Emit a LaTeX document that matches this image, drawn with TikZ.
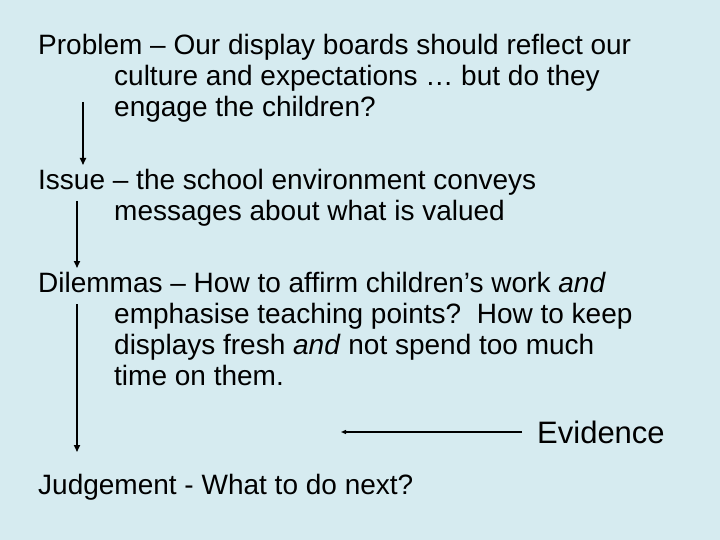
\documentclass[tikz,border=0pt]{standalone}
\usepackage{fontspec}
\setmainfont{Liberation Sans}
\usetikzlibrary{arrows.meta}
\definecolor{bg}{RGB}{214,235,240}
\begin{document}
\begin{tikzpicture}[x=1pt,y=-1pt,
  txt/.style={anchor=base west,inner sep=0pt,font=\fontsize{28}{31}\selectfont},
  big/.style={anchor=base west,inner sep=0pt,font=\fontsize{31}{36}\selectfont},
  varrow/.style={line width=1.6pt,-{Triangle[length=7pt,width=6pt]}},
  harrow/.style={line width=1.2pt,-{Triangle[length=5pt,width=4pt]}}]
\fill[bg] (0,0) rectangle (720,540);
\useasboundingbox (0,0) rectangle (720,540);
% Problem
\node[txt] (p1) at (38,55) {Problem – Our display boards should reflect our};
\node[txt] (p2) at (114,86) {culture and expectations … but do they};
\node[txt] (p3) at (114,117) {engage the children?};
% Issue
\node[txt] (i1) at (38,190) {Issue – the school environment conveys};
\node[txt] (i2) at (114,221) {messages about what is valued};
% Dilemmas
\node[txt] (d1) at (38,292) {Dilemmas – How to affirm children’s work \textit{and}};
\node[txt] (d2) at (114,323) {emphasise teaching points?\ \ How to keep};
\node[txt] (d3) at (114,354) {displays fresh \textit{and} not spend too much};
\node[txt] (d4) at (114,385) {time on them.};
% Evidence
\node[big] (ev) at (537,443) {Evidence};
% Judgement
\node[txt] (j1) at (38,494) {Judgement - What to do next?};
% arrow ends
\coordinate (a1s) at (83,102);
\coordinate (a1e) at (83,165);
\coordinate (a2s) at (77,201);
\coordinate (a2e) at (77,268);
\coordinate (a3s) at (77,304);
\coordinate (a3e) at (77,452);
\coordinate (e1) at (522,432);
\coordinate (e2) at (341,432);
\draw[varrow] (a1s) -- (a1e);
\draw[varrow] (a2s) -- (a2e);
\draw[varrow] (a3s) -- (a3e);
\draw[harrow] (e1) -- (e2);
\end{tikzpicture}
\end{document}
